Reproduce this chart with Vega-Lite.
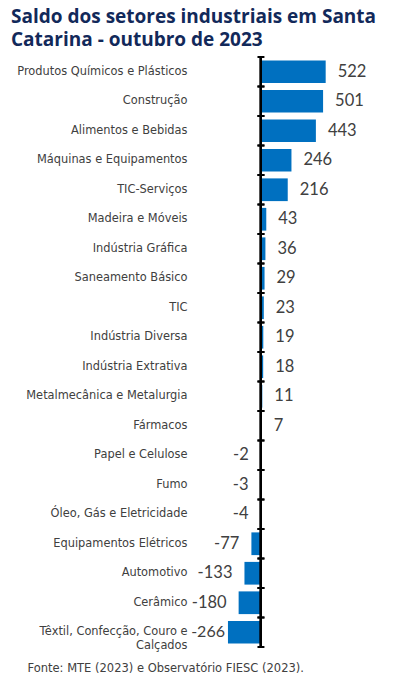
{
  "$schema": "https://vega.github.io/schema/vega-lite/v6.json",
  "autosize": {"type": "none"},
  "width": 188,
  "height": 590,
  "padding": {"left": 192, "top": 57, "right": 16, "bottom": 40},
  "background": "white",
  "title": {
    "text": ["Saldo dos setores industriais em Santa", "Catarina - outubro de 2023"],
    "anchor": "start",
    "frame": "group",
    "dx": -181,
    "offset": 6,
    "font": "Open Sans",
    "fontSize": 19,
    "fontWeight": "bold",
    "lineHeight": 23,
    "color": "#12295A"
  },
  "config": {"view": {"stroke": null}},
  "data": {
    "values": [
      {"cat": "Produtos Químicos e Plásticos", "value": 522},
      {"cat": "Construção", "value": 501},
      {"cat": "Alimentos e Bebidas", "value": 443},
      {"cat": "Máquinas e Equipamentos", "value": 246},
      {"cat": "TIC-Serviços", "value": 216},
      {"cat": "Madeira e Móveis", "value": 43},
      {"cat": "Indústria Gráfica", "value": 36},
      {"cat": "Saneamento Básico", "value": 29},
      {"cat": "TIC", "value": 23},
      {"cat": "Indústria Diversa", "value": 19},
      {"cat": "Indústria Extrativa", "value": 18},
      {"cat": "Metalmecânica e Metalurgia", "value": 11},
      {"cat": "Fármacos", "value": 7},
      {"cat": "Papel e Celulose", "value": -2},
      {"cat": "Fumo", "value": -3},
      {"cat": "Óleo, Gás e Eletricidade", "value": -4},
      {"cat": "Equipamentos Elétricos", "value": -77},
      {"cat": "Automotivo", "value": -133},
      {"cat": "Cerâmico", "value": -180},
      {"cat": "Têxtil, Confecção, Couro e Calçados", "value": -266}
    ]
  },
  "layer": [
    {
      "mark": {"type": "bar", "color": "#0070C0", "height": {"band": 0.77}},
      "encoding": {
        "y": {
          "field": "cat", "type": "nominal", "sort": null,
          "scale": {"paddingInner": 0, "paddingOuter": 0},
          "axis": {
            "title": null, "ticks": false, "domain": false,
            "labelPadding": 5, "labelFont": "DejaVu Sans", "labelFontSize": 11.4,
            "labelColor": "#404040", "labelLimit": 200, "labelLineHeight": 14,
            "labelExpr": "datum.value == 'Têxtil, Confecção, Couro e Calçados' ? ['Têxtil, Confecção, Couro e', 'Calçados\u00a0\u00a0\u00a0\u00a0\u00a0\u00a0\u00a0\u00a0\u00a0\u00a0\u00a0\u00a0\u00a0\u00a0\u00a0\u00a0'] : datum.value"
          }
        },
        "x": {
          "field": "value", "type": "quantitative",
          "scale": {"domain": [-556, 960], "nice": false, "zero": false},
          "axis": {
            "labels": false, "ticks": false, "domain": false, "grid": false,
            "title": "Fonte: MTE (2023) e Observatório FIESC (2023).",
            "titleX": -165, "titleY": 24, "titleAlign": "left", "titleAnchor": "start",
            "titleBaseline": "alphabetic",
            "titleFont": "DejaVu Sans", "titleFontSize": 11.5, "titleFontWeight": "normal",
            "titleColor": "#404040"
          }
        }
      }
    },
    {
      "transform": [{"filter": "datum.value >= 0"}],
      "mark": {"type": "text", "align": "left", "dx": 12, "font": "Lato", "fontSize": 16.5, "color": "#404040", "baseline": "middle"},
      "encoding": {
        "y": {"field": "cat", "type": "nominal", "sort": null},
        "x": {"field": "value", "type": "quantitative"},
        "text": {"field": "value", "type": "nominal"}
      }
    },
    {
      "transform": [{"filter": "datum.value < 0 && datum.value > -250"}],
      "mark": {"type": "text", "align": "right", "dx": -12, "font": "Lato", "fontSize": 16.5, "color": "#404040", "baseline": "middle"},
      "encoding": {
        "y": {"field": "cat", "type": "nominal", "sort": null},
        "x": {"field": "value", "type": "quantitative"},
        "text": {"field": "value", "type": "nominal"}
      }
    },
    {
      "transform": [{"filter": "datum.value <= -250"}],
      "mark": {"type": "text", "align": "right", "dx": -3, "font": "Lato", "fontSize": 16, "color": "#404040", "baseline": "middle"},
      "encoding": {
        "y": {"field": "cat", "type": "nominal", "sort": null},
        "x": {"field": "value", "type": "quantitative"},
        "text": {"field": "value", "type": "nominal"}
      }
    },
    {
      "mark": {"type": "rule", "color": "#000000", "strokeWidth": 2},
      "encoding": {"x": {"datum": 0}}
    },
    {
      "mark": {"type": "rule", "color": "#000000", "strokeWidth": 2},
      "encoding": {
        "y": {"field": "cat", "type": "nominal", "sort": null, "bandPosition": 0},
        "x": {"datum": -28},
        "x2": {"datum": 28}
      }
    },
    {
      "mark": {"type": "rule", "color": "#000000", "strokeWidth": 2},
      "encoding": {
        "y": {"field": "cat", "type": "nominal", "sort": null, "bandPosition": 1},
        "x": {"datum": -28},
        "x2": {"datum": 28}
      }
    }
  ]
}
